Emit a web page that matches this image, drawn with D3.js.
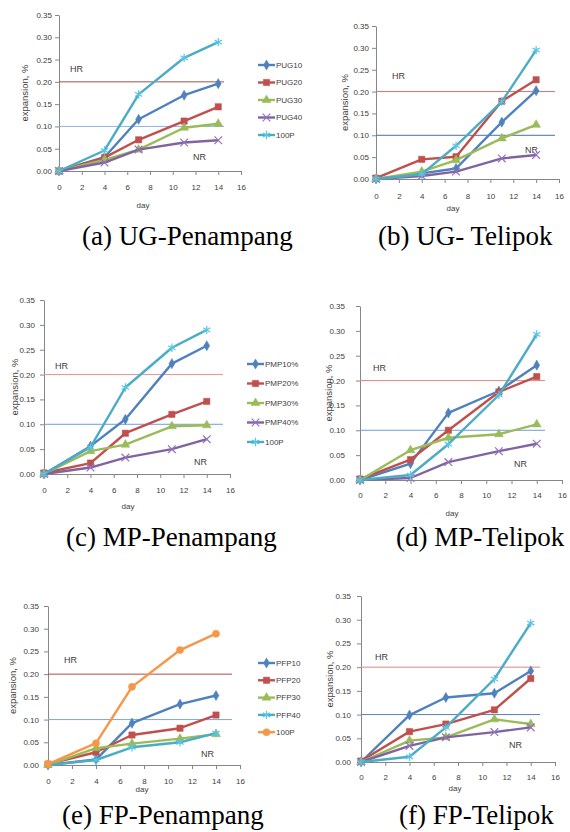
<!DOCTYPE html>
<html>
<head>
<meta charset="utf-8">
<script src="https://cdn.jsdelivr.net/npm/d3@7"></script>
<style>
body { margin: 0; background: #fff; }
text { font-family: "Liberation Sans", Arial, sans-serif; fill: #404040; }
.cap { font-family: "Liberation Serif", "Times New Roman", serif; fill: #000; font-size: 27px; }
</style>
</head>
<body>
<svg id="chart" width="570" height="832"></svg>
<script>
// data
var days = [0, 4, 7, 11, 14];
var xTicks = [0, 2, 4, 6, 8, 10, 12, 14, 16];
var yTicks = [0, 0.05, 0.10, 0.15, 0.20, 0.25, 0.30, 0.35];
var captions = ['(a) UG-Penampang', '(b) UG- Telipok', '(c) MP-Penampang',
    '(d) MP-Telipok', '(e) FP-Penampang', '(f) FP-Telipok'];

var namesA = ['PUG10', 'PUG20', 'PUG30', 'PUG40', '100P'];
var valuesA = [
    [0, 0.031, 0.116, 0.170, 0.196],
    [0, 0.030, 0.070, 0.112, 0.144],
    [0, 0.025, 0.048, 0.097, 0.106],
    [0, 0.019, 0.048, 0.064, 0.069],
    [0, 0.046, 0.172, 0.254, 0.289]
];
var valuesB = [
    [0, 0.013, 0.024, 0.130, 0.202],
    [0.002, 0.045, 0.051, 0.178, 0.227],
    [0, 0.017, 0.043, 0.093, 0.124],
    [0, 0.007, 0.017, 0.047, 0.055],
    [0, 0.011, 0.076, 0.177, 0.295]
];
var namesC = ['PMP10%', 'PMP20%', 'PMP30%', 'PMP40%', '100P'];
var valuesC = [
    [0, 0.056, 0.110, 0.222, 0.258],
    [0.002, 0.022, 0.082, 0.120, 0.146],
    [0, 0.046, 0.059, 0.096, 0.098],
    [0, 0.013, 0.033, 0.050, 0.070],
    [0, 0.054, 0.174, 0.254, 0.290]
];
var valuesD = [
    [0, 0.033, 0.135, 0.179, 0.231],
    [0.002, 0.041, 0.100, 0.177, 0.208],
    [0, 0.060, 0.085, 0.092, 0.112],
    [0, 0.004, 0.036, 0.058, 0.073],
    [0, 0.010, 0.072, 0.171, 0.293]
];
var namesE = ['PFP10', 'PFP20', 'PFP30', 'PFP40', '100P'];
var valuesE = [
    [0, 0.012, 0.092, 0.134, 0.153],
    [0.002, 0.028, 0.066, 0.081, 0.110],
    [0, 0.037, 0.047, 0.058, 0.068],
    [0, 0.011, 0.039, 0.050, 0.070],
    [0.002, 0.048, 0.172, 0.253, 0.289]
];
var valuesF = [
    [0, 0.099, 0.136, 0.145, 0.192],
    [0.002, 0.064, 0.080, 0.110, 0.176],
    [0, 0.045, 0.052, 0.090, 0.080],
    [0, 0.034, 0.052, 0.063, 0.073],
    [0, 0.011, 0.073, 0.175, 0.293]
];
var highLimit = 0.20;
var lowLimit = 0.10;

// styles
var blue = '#4f81bd', red = '#c0504d', green = '#9bbb59', purple = '#8064a2',
    cyan = '#4bacc6', orange = '#f79646';
var stdColors = [blue, red, green, purple, cyan];
var stdSymbols = ['diamond', 'square', 'triangle', 'times', 'asterisk'];

// layout of each panel
var panels = [
    {values: valuesA, names: namesA, colors: stdColors, symbols: stdSymbols,
     l: 59, r: 241, t: 15, b: 171, refEnd: 224, hiCol: '#a2504c', loCol: '#8db4e2',
     hr: [70, 72], nr: [193, 160], yl: 25, day: [143, 208], tickY: 187, lblOff: 7,
     legend: [258, 65, 17.5], cap: [82, 245]},
    {values: valuesB, names: null, colors: stdColors, symbols: stdSymbols,
     l: 376, r: 559, t: 26, b: 179, refEnd: 555, hiCol: '#e36c6c', loCol: '#4a6fa5',
     hr: [392, 79], nr: [525, 153], yl: 345, day: [453, 211], tickY: 196, lblOff: 7,
     legend: null, cap: [378, 245]},
    {values: valuesC, names: namesC, colors: stdColors, symbols: stdSymbols,
     l: 44, r: 230, t: 300, b: 474, refEnd: 223, hiCol: '#eb8f8f', loCol: '#6f9fd8',
     hr: [55, 369], nr: [194, 465], yl: 15, day: [128, 509], tickY: 490, lblOff: 9,
     legend: [247, 364, 19.5], cap: [66, 546]},
    {values: valuesD, names: null, colors: stdColors, symbols: stdSymbols,
     l: 360, r: 562, t: 306, b: 480, refEnd: 545, hiCol: '#e98585', loCol: '#6f9fd8',
     hr: [373, 371], nr: [514, 467], yl: 329, day: [452, 516], tickY: 495, lblOff: 15,
     legend: null, cap: [396, 546]},
    {values: valuesE, names: namesE, colors: [blue, red, green, cyan, orange],
     symbols: ['diamond', 'square', 'triangle', 'asterisk', 'circle'],
     l: 48, r: 240, t: 606, b: 765, refEnd: 232, hiCol: '#b54a46', loCol: '#7ea6e0',
     hr: [64, 663], nr: [201, 757], yl: 13, day: [142, 792], tickY: 781, lblOff: 9,
     legend: [258, 663, 17.3], cap: [62, 824]},
    {values: valuesF, names: null, colors: stdColors, symbols: stdSymbols,
     l: 361, r: 555, t: 596, b: 762, refEnd: 540, hiCol: '#e58383', loCol: '#5a7fb5',
     hr: [375, 660], nr: [509, 748], yl: 330, day: [455, 791], tickY: 777, lblOff: 10,
     legend: null, cap: [399, 824]}
];

var svg = d3.select('#chart');

var symbolTypes = {
    diamond: d3.symbolDiamond,
    square: d3.symbolSquare,
    triangle: d3.symbolTriangle,
    times: d3.symbolTimes,
    asterisk: d3.symbolAsterisk,
    circle: d3.symbolCircle
};
var symbolSizes = {diamond: 30, square: 40, triangle: 34, times: 40, asterisk: 48, circle: 40};

function drawMarker(g, kind, color, x, y) {
    var isStroke = kind === 'times' || kind === 'asterisk';
    g.append('path')
        .attr('transform', 'translate(' + x + ',' + y + ')')
        .attr('d', d3.symbol().type(symbolTypes[kind]).size(symbolSizes[kind])())
        .attr('fill', isStroke ? 'none' : color)
        .attr('stroke', isStroke ? d3.color(color).brighter(0.4) : color)
        .attr('stroke-width', isStroke ? 1.2 : 0.5);
}

panels.forEach(function(p, pi) {
    var g = svg.append('g');
    var x = d3.scaleLinear().domain([0, 16]).range([p.l, p.r]);
    var y = d3.scaleLinear().domain([0, 0.35]).range([p.b, p.t]);

    // axes
    var xAxis = g.append('g').attr('transform', 'translate(0,' + p.b + ')')
        .call(d3.axisBottom(x).tickValues(xTicks).tickSize(4).tickSizeOuter(0).tickFormat(d3.format('d')));
    var yAxis = g.append('g').attr('transform', 'translate(' + p.l + ',0)')
        .call(d3.axisLeft(y).tickValues(yTicks).tickSize(4).tickSizeOuter(0).tickFormat(d3.format('.2f')));
    [xAxis, yAxis].forEach(function(a) {
        a.select('.domain').attr('stroke', '#868686');
        a.selectAll('.tick line').attr('stroke', '#868686');
        a.selectAll('.tick text').attr('font-size', 8).attr('fill', '#404040')
            .style('font-family', '"Liberation Sans", Arial, sans-serif');
    });
    xAxis.selectAll('.tick text').attr('y', p.tickY - p.b).attr('dy', '0.35em');
    yAxis.selectAll('.tick text').attr('x', -p.lblOff);

    // reference lines
    g.append('line').attr('x1', p.l).attr('x2', p.refEnd)
        .attr('y1', y(highLimit)).attr('y2', y(highLimit))
        .attr('stroke', p.hiCol).attr('stroke-width', 1);
    g.append('line').attr('x1', p.l).attr('x2', p.refEnd)
        .attr('y1', y(lowLimit)).attr('y2', y(lowLimit))
        .attr('stroke', p.loCol).attr('stroke-width', 1);

    g.append('text').attr('x', p.hr[0]).attr('y', p.hr[1]).attr('font-size', 9).text('HR');
    g.append('text').attr('x', p.nr[0]).attr('y', p.nr[1]).attr('font-size', 9).text('NR');

    g.append('text')
        .attr('transform', 'translate(' + p.yl + ',' + ((p.t + p.b) / 2) + ') rotate(-90)')
        .attr('text-anchor', 'middle').attr('dy', '0.35em')
        .attr('font-size', 9.5).text('expansion, %');
    g.append('text').attr('x', p.day[0]).attr('y', p.day[1])
        .attr('text-anchor', 'middle').attr('font-size', 8).text('day');

    var line = d3.line()
        .x(function(d, i) { return x(days[i]); })
        .y(function(d) { return y(d); });

    p.values.forEach(function(vals, si) {
        var col = p.colors[si];
        g.append('path').attr('d', line(vals))
            .attr('fill', 'none').attr('stroke', col)
            .attr('stroke-width', 2.4).attr('stroke-linejoin', 'round');
        vals.forEach(function(v, i) {
            drawMarker(g, p.symbols[si], col, x(days[i]), y(v));
        });
    });

    if (p.legend) {
        p.names.forEach(function(n, si) {
            var ly = p.legend[1] + si * p.legend[2];
            var col = p.colors[si];
            g.append('line').attr('x1', p.legend[0]).attr('x2', p.legend[0] + 17)
                .attr('y1', ly).attr('y2', ly)
                .attr('stroke', col).attr('stroke-width', 2.4);
            drawMarker(g, p.symbols[si], col, p.legend[0] + 8.5, ly);
            g.append('text').attr('x', p.legend[0] + 18).attr('y', ly)
                .attr('dy', '0.35em').attr('font-size', 8).text(n);
        });
    }

    svg.append('text').attr('class', 'cap')
        .attr('x', p.cap[0]).attr('y', p.cap[1]).text(captions[pi]);
});
</script>
</body>
</html>
